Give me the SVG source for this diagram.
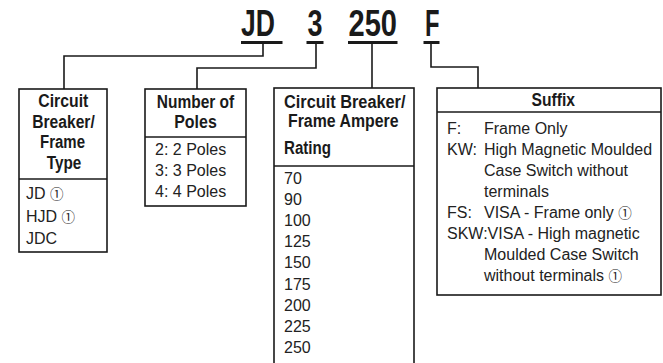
<svg xmlns="http://www.w3.org/2000/svg" width="663" height="363" viewBox="0 0 663 363">
<style>
.big{font-family:"Liberation Sans",Arial,sans-serif;font-weight:bold;font-size:36px;fill:#1a1a1a}
.h{font-family:"Liberation Sans",Arial,sans-serif;font-weight:bold;font-size:17.5px;fill:#1a1a1a}
.t{font-family:"Liberation Sans",Arial,sans-serif;font-size:16px;fill:#222}
.c{font-family:"Noto Sans CJK SC","DejaVu Sans",sans-serif;font-size:13.5px}
.box{fill:#fff;stroke:#1a1a1a;stroke-width:1.6}
.ln{fill:none;stroke:#1a1a1a;stroke-width:1.6}
.ul{fill:#1a1a1a}
</style>
<rect width="663" height="363" fill="#fff"/>
<g id="code">
<text class="big" x="241" y="36" textLength="34" lengthAdjust="spacingAndGlyphs">JD</text>
<text class="big" x="307.5" y="36" textLength="15" lengthAdjust="spacingAndGlyphs">3</text>
<text class="big" x="348.5" y="36" textLength="48.5" lengthAdjust="spacingAndGlyphs">250</text>
<text class="big" x="425" y="36" textLength="14.5" lengthAdjust="spacingAndGlyphs">F</text>
<rect class="ul" x="241" y="41" width="41.5" height="3"/>
<rect class="ul" x="306.5" y="41" width="17" height="3"/>
<rect class="ul" x="348" y="41" width="49.5" height="3"/>
<rect class="ul" x="423.5" y="41" width="16" height="3"/>
</g>
<g id="connectors">
<path class="ln" d="M263,44 V56 H64 V89"/>
<path class="ln" d="M316,44 V68 H197 V89"/>
<path class="ln" d="M372,44 V88"/>
<path class="ln" d="M431,44 V67 H478 V88"/>
</g>
<g id="frame-type">
<rect class="box" x="19" y="89" width="88" height="163"/>
<line class="ln" x1="19" y1="179" x2="107" y2="179"/>
<g text-anchor="middle">
<text class="h" x="63.3" y="107" textLength="50" lengthAdjust="spacingAndGlyphs">Circuit</text>
<text class="h" x="63.5" y="127.5" textLength="62.5" lengthAdjust="spacingAndGlyphs">Breaker/</text>
<text class="h" x="62.5" y="148" textLength="45" lengthAdjust="spacingAndGlyphs">Frame</text>
<text class="h" x="64" y="169" textLength="34.5" lengthAdjust="spacingAndGlyphs">Type</text>
</g>
<text class="t" x="26" y="199">JD <tspan class="c">①</tspan></text>
<text class="t" x="26" y="222">HJD <tspan class="c">①</tspan></text>
<text class="t" x="26" y="244">JDC</text>
</g>
<g id="poles">
<rect class="box" x="145" y="89" width="101" height="117"/>
<line class="ln" x1="145" y1="137" x2="246" y2="137"/>
<g text-anchor="middle">
<text class="h" x="195.5" y="108" textLength="77.5" lengthAdjust="spacingAndGlyphs">Number of</text>
<text class="h" x="195.5" y="128" textLength="42.5" lengthAdjust="spacingAndGlyphs">Poles</text>
</g>
<text class="t" x="155" y="155">2: 2 Poles</text>
<text class="t" x="155" y="176">3: 3 Poles</text>
<text class="t" x="155" y="197">4: 4 Poles</text>
</g>
<g id="ampere">
<rect class="box" x="274" y="88" width="140" height="290"/>
<line class="ln" x1="274" y1="166" x2="414" y2="166"/>
<text class="h" x="284" y="108" textLength="121.5" lengthAdjust="spacingAndGlyphs">Circuit Breaker/</text>
<text class="h" x="288" y="127" textLength="110.5" lengthAdjust="spacingAndGlyphs">Frame Ampere</text>
<text class="h" x="284" y="154" textLength="47" lengthAdjust="spacingAndGlyphs">Rating</text>
<text class="t" x="284" y="183.5">70</text>
<text class="t" x="284" y="204.7">90</text>
<text class="t" x="284" y="225.9">100</text>
<text class="t" x="284" y="247.1">125</text>
<text class="t" x="284" y="268.3">150</text>
<text class="t" x="284" y="289.5">175</text>
<text class="t" x="284" y="310.7">200</text>
<text class="t" x="284" y="331.9">225</text>
<text class="t" x="284" y="353.1">250</text>
</g>
<g id="suffix">
<rect class="box" x="437" y="88" width="224" height="207"/>
<line class="ln" x1="437" y1="112" x2="661" y2="112"/>
<text class="h" x="553.3" y="106" text-anchor="middle" textLength="43.5" lengthAdjust="spacingAndGlyphs">Suffix</text>
<text class="t" x="447" y="134">F:</text>
<text class="t" x="484" y="134">Frame Only</text>
<text class="t" x="447" y="155">KW:</text>
<text class="t" x="484" y="155">High Magnetic Moulded</text>
<text class="t" x="484" y="176">Case Switch without</text>
<text class="t" x="484" y="197">terminals</text>
<text class="t" x="447" y="218">FS:</text>
<text class="t" x="484" y="218">VISA - Frame only <tspan class="c">①</tspan></text>
<text class="t" x="447" y="239">SKW:VISA - High magnetic</text>
<text class="t" x="484" y="260">Moulded Case Switch</text>
<text class="t" x="484" y="281">without terminals <tspan class="c">①</tspan></text>
</g>
</svg>
